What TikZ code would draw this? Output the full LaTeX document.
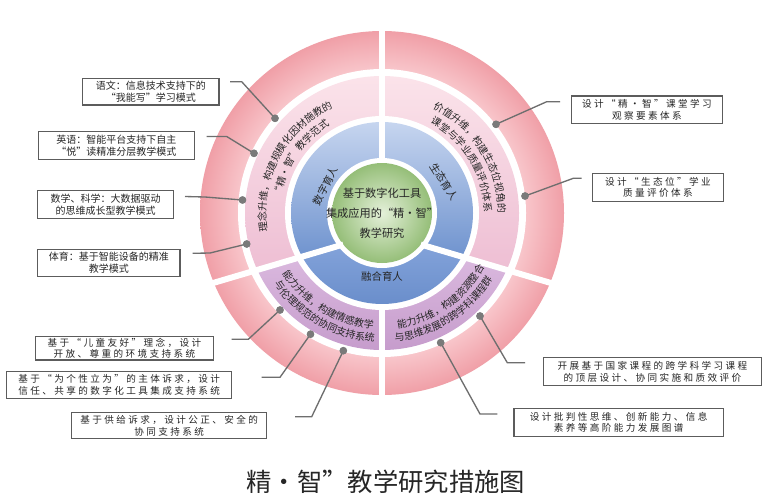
\documentclass[tikz,border=0pt]{standalone}
\usepackage{fontspec}
\newfontfamily\cjk{Noto Sans CJK SC}
\newfontfamily\cjksp[LetterSpace=25]{Noto Sans CJK SC}
\usetikzlibrary{decorations.text}
\definecolor{ringin}{HTML}{F8C5CA}
\definecolor{ringout}{HTML}{F09FA7}
\definecolor{midtop}{HTML}{FBE3EA}
\definecolor{midbot}{HTML}{EDBCD2}
\definecolor{purtop}{HTML}{DDBDE1}
\definecolor{purbot}{HTML}{C69CCC}
\definecolor{bluetop}{HTML}{C6D5EF}
\definecolor{bluebot}{HTML}{6B90CD}
\definecolor{bluebtop}{HTML}{88A7DD}
\definecolor{bluebbot}{HTML}{6A8ECB}
\definecolor{greenin}{HTML}{E4F0D9}
\definecolor{greenout}{HTML}{95BE78}
\definecolor{boxgray}{HTML}{5C5C5C}
\definecolor{linegray}{HTML}{6E6E6E}
\definecolor{dotgray}{HTML}{7A7A7A}
\definecolor{txt}{HTML}{262626}
\pgfdeclareradialshading{outerring}{\pgfpoint{0bp}{0bp}}{color(0bp)=(ringin); color(19.8bp)=(ringin); color(25bp)=(ringout); color(50bp)=(ringout)}
\newcommand\ringfont{\cjk\fontsize{7.5pt}{9pt}\selectfont\color{txt}}
\begin{document}
\begin{tikzpicture}[x=0.75pt,y=-0.75pt,
  every node/.style={font=\cjk},
  lbox/.style={draw=boxgray, line width=0.9pt, inner sep=0pt, align=center, text=txt, font=\cjk\fontsize{7.5pt}{9pt}\selectfont},
  sbox/.style={draw=boxgray, line width=0.9pt, inner sep=0pt, align=center, text=txt, font=\cjksp\fontsize{7.2pt}{8.7pt}\selectfont},
  conn/.style={draw=linegray, line width=1pt},
  dot/.style={circle, fill=dotgray, inner sep=0pt, minimum size=5.6pt},
  divider/.style={draw=white, line width=4.5pt},
  ringtext/.style={decorate, decoration={text along path, text align=center, text={#1}}},
  bluelabel/.style={font=\cjk\fontsize{7.8pt}{9pt}\selectfont, text=txt, inner sep=0pt}
]
\useasboundingbox[fill=white] (0,0) rectangle (784,500);

\begin{scope}[shift={(286.5pt,-159.75pt)},x=0.75pt,y=0.75pt]
  % outer ring
  \shade[shading=outerring] (0,0) circle (182);
  \fill[white] (0,0) circle (144);
  % middle ring
  \begin{scope}
    \clip (0,-20.3) -- (-191.8,-77.1) -- (-200,200) -- (200,200) -- (191.8,-77.1) -- cycle;
    \clip (0,0) circle (137);
    \shade[top color=midtop, bottom color=midbot] (-137,137) rectangle (137,-70);
  \end{scope}
  \begin{scope}
    \clip (0,-20.3) -- (-191.8,-77.1) -- (-191.8,-200) -- (191.8,-200) -- (191.8,-77.1) -- cycle;
    \clip (0,0) circle (137);
    \shade[top color=purtop, bottom color=purbot] (-137,-30) rectangle (137,-137);
  \end{scope}
  \fill[white] (0,0) circle (97);
  % blue ring
  \begin{scope}
    \clip (0,-20.3) -- (-191.8,-77.1) -- (-200,200) -- (200,200) -- (191.8,-77.1) -- cycle;
    \clip (0,0) circle (91);
    \shade[top color=bluetop, bottom color=bluebot] (-91,91) rectangle (91,-50);
  \end{scope}
  \begin{scope}
    \clip (0,-20.3) -- (-191.8,-77.1) -- (-191.8,-200) -- (191.8,-200) -- (191.8,-77.1) -- cycle;
    \clip (0,0) circle (91);
    \shade[top color=bluebtop, bottom color=bluebbot] (-91,-20) rectangle (91,-91);
  \end{scope}
  \fill[white] (0,0) circle (55);
  \shade[inner color=greenin, outer color=greenout] (0,0) circle (50);
  % dividers
  \draw[divider] (0,50) -- (0,192);
  \draw[divider] (0,-91) -- (0,-192);
  \draw[divider] (-38.8,-31.5) -- (-176,-72.1);
  \draw[divider] (38.8,-31.5) -- (176,-72.1);

  % centre text
  \node[font=\cjk\fontsize{8.4pt}{15pt}\selectfont, text=txt, align=center] (core) at (0,0) {基于数字化工具\\集成应用的“精·智”\\教学研究};
  % blue ring labels
  \node[bluelabel, rotate=63] (shuzi) at (-56.3,27.3) {数字育人};
  \node[bluelabel, rotate=-58] (shengtai) at (62,31.3) {生态育人};
  \node[bluelabel] (ronghe) at (0,-63.7) {融合育人};

  % middle ring curved texts
  \path[ringtext={|\ringfont|理念升维，构建规模化因材施教的}] (195:116) arc[start angle=195, end angle=109, radius=116];
  \path[ringtext={|\ringfont|“精·智”教学范式}] (180:102) arc[start angle=180, end angle=112, radius=102];
  \path[ringtext={|\ringfont|价值升维，构建生态位视角的}] (75:116) arc[start angle=75, end angle=-11, radius=116];
  \path[ringtext={|\ringfont|课堂与学业质量评价体系}] (74:102) arc[start angle=74, end angle=-12, radius=102];
  \path[ringtext={|\ringfont|能力升维，构建情感教学}] (203.5:116) arc[start angle=203.5, end angle=273.5, radius=116];
  \path[ringtext={|\ringfont|与伦理规范的协同支持系统}] (205:129) arc[start angle=205, end angle=275, radius=129];
  \path[ringtext={|\ringfont|能力升维，构建资源整合}] (270:116) arc[start angle=270, end angle=340, radius=116];
  \path[ringtext={|\ringfont|与思维发展的跨学科课程群}] (267.5:129) arc[start angle=267.5, end angle=337.5, radius=129];
\end{scope}

% boxes
\node[lbox, minimum width=102.2pt, minimum height=20pt] (b1) at (150.8,91.7) {语文：信息技术支持下的\\“我能写”学习模式};
\node[lbox, minimum width=117pt, minimum height=20.7pt] (b2) at (116.3,145.5) {英语：智能平台支持下自主\\“悦”读精准分层教学模式};
\node[lbox, minimum width=101.7pt, minimum height=20.7pt] (b3) at (105.5,204.5) {数学、科学：大数据驱动\\的思维成长型教学模式};
\node[lbox, minimum width=106.7pt, minimum height=20.5pt] (b4) at (108.8,263) {体育：基于智能设备的精准\\教学模式};
\node[sbox, minimum width=133.2pt, minimum height=17.5pt] (b5) at (124.5,348.3) {基于“儿童友好”理念，设计\\开放、尊重的环境支持系统};
\node[sbox, minimum width=168.8pt, minimum height=20pt] (b6) at (119.2,385) {基于“为个性立为”的主体诉求，设计\\信任、共享的数字化工具集成支持系统};
\node[sbox, minimum width=146.3pt, minimum height=19.2pt] (b7) at (169.2,425.5) {基于供给诉求，设计公正、安全的\\协同支持系统};
\node[sbox, minimum width=113pt, minimum height=20.5pt] (b8) at (647,109.7) {设计“精·智”课堂学习\\观察要素体系};
\node[sbox, minimum width=98pt, minimum height=21.3pt] (b9) at (658,187.5) {设计“生态位”学业\\质量评价体系};
\node[sbox, minimum width=163.8pt, minimum height=21pt] (b10) at (652.5,371.7) {开展基于国家课程的跨学科学习课程\\的顶层设计、协同实施和质效评价};
\node[sbox, minimum width=157pt, minimum height=21.3pt] (b11) at (618.7,422.5) {设计批判性思维、创新能力、信息\\素养等高阶能力发展图谱};

% dots
\node[dot] (d1) at (275,118.3) {};
\node[dot] (d2) at (254,153.3) {};
\node[dot] (d3) at (242.5,200) {};
\node[dot] (d4) at (246.7,244) {};
\node[dot] (d5) at (280,310) {};
\node[dot] (d6) at (310.5,334.2) {};
\node[dot] (d7) at (343.3,350.7) {};
\node[dot] (d8) at (496,124.3) {};
\node[dot] (d9) at (525,196) {};
\node[dot] (d10) at (480,316) {};
\node[dot] (d11) at (440.7,342.7) {};

% connector free ends and bends
\coordinate (s1) at (230,81.7);   \coordinate (k1) at (241.7,81.7);
\coordinate (s2) at (206.7,136.5); \coordinate (k2) at (226.7,136.5);
\coordinate (s3) at (185,196.5);  \coordinate (k3) at (205,197);
\coordinate (s4) at (192.7,253.3); \coordinate (k4) at (210,253);
\coordinate (s5) at (231.7,339.3); \coordinate (k5) at (248.3,339.3);
\coordinate (s6) at (261.7,377.3); \coordinate (k6) at (280,377.3);
\coordinate (s7) at (295,416.7);  \coordinate (k7) at (311.7,416.7);
\coordinate (s8) at (560,101.7);  \coordinate (k8) at (546.7,101.7);
\coordinate (s9) at (581.7,178.3); \coordinate (k9) at (573.3,178.3);
\coordinate (s10) at (525,362.7); \coordinate (k10) at (507.3,362.7);
\coordinate (s11) at (497.3,414); \coordinate (k11) at (480,414);

\foreach \i in {1,...,11} {
  \draw[conn] (s\i) -- (k\i) -- (d\i.center);
  \node[dot] at (d\i) {};
}

% title
\node[font=\cjk\fontsize{19pt}{22pt}\selectfont, text=txt] (title) at (385.8,481.7) {精・智”教学研究措施图};
\end{tikzpicture}
\end{document}
